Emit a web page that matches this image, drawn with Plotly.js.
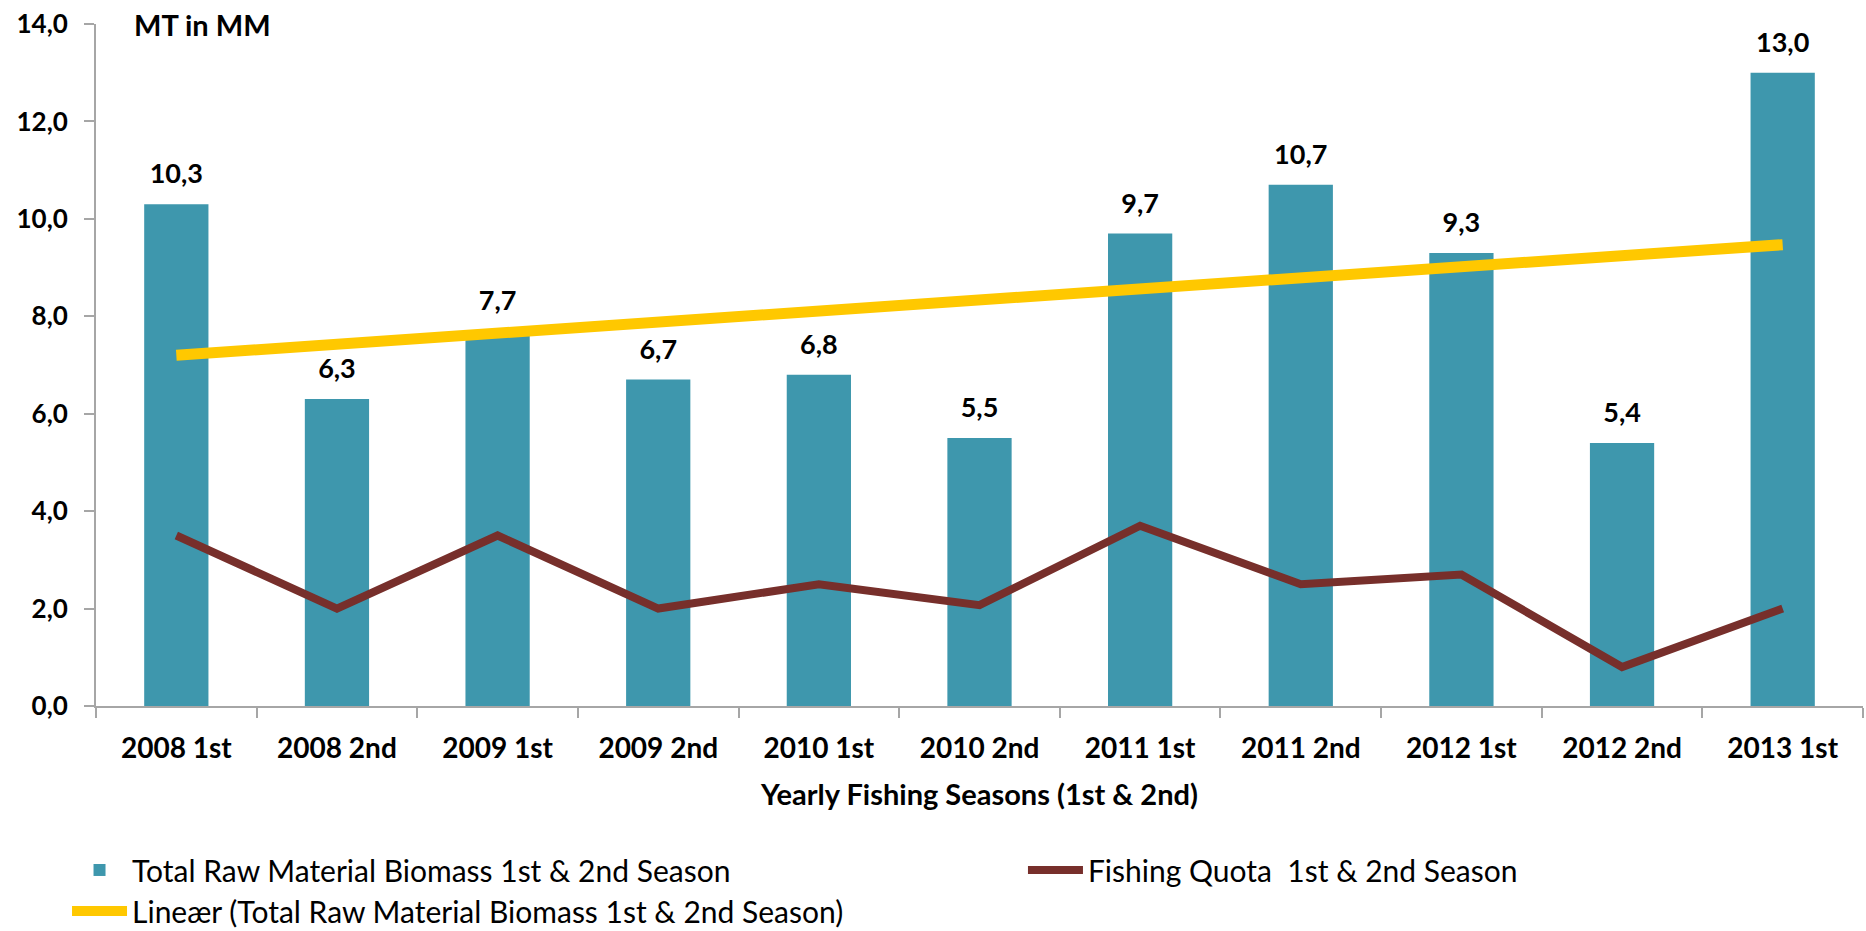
<!DOCTYPE html>
<html>
<head>
<meta charset="utf-8">
<script src="https://cdn.plot.ly/plotly-3.0.1.min.js"></script>
<style>
html,body{margin:0;padding:0;background:#fff;}
#chart{width:1866px;height:931px;}
</style>
</head>
<body>
<div id="chart"></div>
<script>
const seasons = ["2008 1st","2008 2nd","2009 1st","2009 2nd","2010 1st","2010 2nd","2011 1st","2011 2nd","2012 1st","2012 2nd","2013 1st"];
const biomass = [10.3, 6.3, 7.7, 6.7, 6.8, 5.5, 9.7, 10.7, 9.3, 5.4, 13.0];
const quota = [3.5, 2.0, 3.5, 2.0, 2.5, 2.07, 3.7, 2.5, 2.7, 0.8, 2.0];
const trendX = ["2008 1st", "2013 1st"];
const trendY = [7.2, 9.47];
const yTicks = [0, 2, 4, 6, 8, 10, 12, 14];

const FONT = "Lato, 'Open Sans', sans-serif";
const AXIS = "#A6A6A6";

const traces = [
  {
    type: "bar", x: seasons, y: biomass,
    name: "Total Raw Material Biomass 1st & 2nd Season",
    marker: {color: "#3E97AD"},
    hoverinfo: "x+y",
    legend: "legend"
  },
  {
    type: "scatter", mode: "lines", x: seasons, y: quota,
    name: "Fishing Quota  1st & 2nd Season",
    line: {color: "#772F2B", width: 8},
    legend: "legend2"
  },
  {
    type: "scatter", mode: "lines", x: trendX, y: trendY,
    name: "Lineær (Total Raw Material Biomass 1st & 2nd Season)",
    line: {color: "#FFC800", width: 11},
    legend: "legend3"
  },
  {
    type: "scatter", mode: "markers+text", x: seasons, y: biomass,
    text: biomass.map(v => v.toFixed(1).replace(".", ",")),
    textposition: "top center",
    textfont: {family: FONT, size: 27, color: "#000", weight: "bold"},
    marker: {size: 21, opacity: 0},
    showlegend: false, hoverinfo: "skip", cliponaxis: false
  }
];

const legendBase = {
  orientation: "h", xanchor: "left", yanchor: "top",
  font: {family: FONT, size: 30, color: "#000"},
  itemwidth: 55,
  bgcolor: "rgba(0,0,0,0)", itemclick: false, itemdoubleclick: false
};

const layout = {
  width: 1866, height: 931,
  paper_bgcolor: "#fff", plot_bgcolor: "#fff",
  margin: {l: 96, r: 3, t: 24, b: 225, pad: 0, autoexpand: false},
  separators: ",.",
  font: {family: FONT, color: "#000"},
  showlegend: true,
  bargap: 0.6,
  xaxis: {
    type: "category", range: [-0.5, 10.5],
    showline: true, linecolor: AXIS, linewidth: 2,
    ticks: "outside", tickson: "boundaries", ticklen: 10, tickcolor: AXIS, tickwidth: 2,
    tickfont: {family: FONT, size: 28, color: "#000", weight: "bold"},
    ticklabelstandoff: 16,
    showgrid: false, zeroline: false,
    title: {text: "Yearly Fishing Seasons (1st & 2nd)", font: {family: FONT, size: 29, color: "#000", weight: "bold"}, standoff: 22},
    automargin: false
  },
  yaxis: {
    range: [0, 14], tickvals: yTicks, tickformat: ".1f",
    showline: true, linecolor: AXIS, linewidth: 2,
    ticks: "outside", ticklen: 10, tickcolor: AXIS, tickwidth: 2,
    tickfont: {family: FONT, size: 26, color: "#000", weight: "bold"},
    ticklabelstandoff: 11,
    showgrid: false, zeroline: false, automargin: false
  },
  legend: Object.assign({}, legendBase, {x: -0.0164, y: -0.2023}),
  legend2: Object.assign({}, legendBase, {x: 0.5246, y: -0.2023}),
  legend3: Object.assign({}, legendBase, {x: -0.0164, y: -0.2625}),
  annotations: [
    {text: "MT in MM", xref: "paper", yref: "paper", x: (202-96)/1767, y: 1.0, xanchor: "center", yanchor: "middle",
     showarrow: false, font: {family: FONT, size: 29, color: "#000", weight: "bold"}}
  ]
};

Plotly.newPlot("chart", traces, layout, {displayModeBar: false, staticPlot: true});
</script>
</body>
</html>
